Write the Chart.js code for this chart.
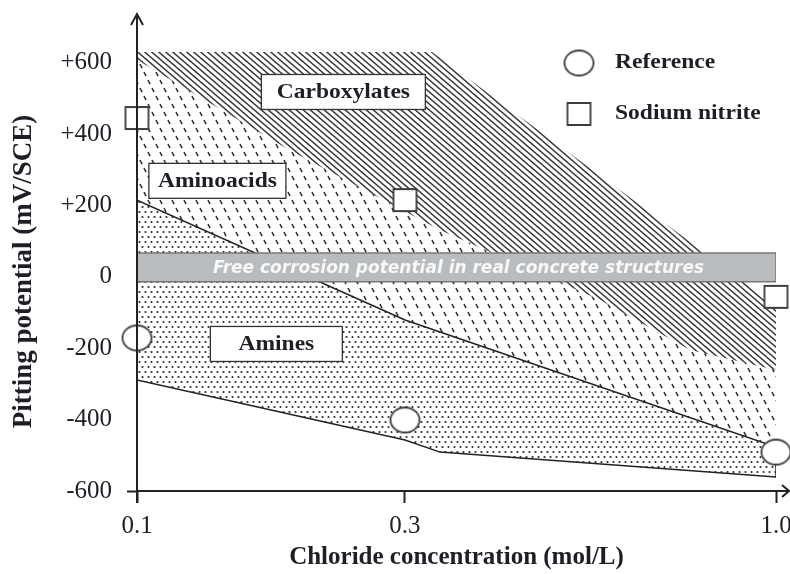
<!DOCTYPE html>
<html>
<head>
<meta charset="utf-8">
<script src="https://cdn.jsdelivr.net/npm/chart.js@4.4.0/dist/chart.umd.min.js"></script>
<style>
  html, body { margin: 0; padding: 0; background: #fff; }
  #wrap { width: 790px; height: 574px; }
</style>
</head>
<body>
<div id="wrap"><canvas id="pitting"></canvas></div>
<script>
// x: chloride concentration (mol/L), y: pitting potential (mV/SCE)
const xTicks = [0.1, 0.3, 1.0];
const xTickLabels = ['0.1', '0.3', '1.0'];
const yTicks = [-600, -400, -200, 0, 200, 400, 600];
const yTickLabels = ['-600', '-400', '-200', '0', '+200', '+400', '+600'];

// measured points
const refConc = [0.1, 0.3, 1.0];
const refPotential = [-171, -401, -491];
const nitriteConc = [0.1, 0.3, 1.0];
const nitritePotential = [445, 215, -56];

// inhibitor domains (outlines)
const carboxConc = [0.1, 0.351, 1.0, 1.0, 0.838, 0.668, 0.366, 0.214, 0.1];
const carboxPotential = [630, 630, -79, -261, -205, -65, 131, 355, 608];
const aminoConc = [0.1, 0.214, 0.366, 0.668, 0.838, 1.0, 1.0, 0.3, 0.1];
const aminoPotential = [608, 355, 131, -65, -205, -261, -477, -121, 215];
const amineConc = [0.1, 0.3, 1.0, 1.0, 0.366, 0.3, 0.1];
const aminePotential = [215, -121, -477, -561, -491, -457, -289];

// free corrosion potential band
const bandConc = [0.1, 1.0, 1.0, 0.1];
const bandPotential = [-14, -14, 67, 67];
const bandText = 'Free corrosion potential in real concrete structures';

// domain labels
const regionNames = ['Carboxylates', 'Aminoacids', 'Amines'];
const regionConc = [0.254, 0.160, 0.204];
const regionPotential = [518, 269, -188];
const regionBoxWidth = [164, 137, 132];

const serif = 'Liberation Serif';
const ink = '#1e1e26';

// the x axis of the figure is neither linear nor log: piecewise between its ticks
class ChlorideScale extends Chart.LinearScale {
  toFrac(v) {
    const k = ChlorideScale.knots, f = ChlorideScale.fracs;
    let i = 1;
    while (i < k.length - 1 && v > k[i]) i++;
    return f[i - 1] + (v - k[i - 1]) / (k[i] - k[i - 1]) * (f[i] - f[i - 1]);
  }
  getPixelForValue(v) {
    if (v === null || v === undefined) return NaN;
    const a = this.toFrac(this.min), b = this.toFrac(this.max);
    return this.getPixelForDecimal((this.toFrac(v) - a) / (b - a));
  }
}
ChlorideScale.id = 'chloride';
ChlorideScale.defaults = Chart.LinearScale.defaults;
ChlorideScale.knots = [0.1, 0.3, 1.0];
ChlorideScale.fracs = [0, 0.4194, 1];
Chart.register(ChlorideScale);

const canvas = document.getElementById('pitting');
const ctx = canvas.getContext('2d');

function pattern(w, h, draw) {
  const c = document.createElement('canvas');
  c.width = w; c.height = h;
  draw(c.getContext('2d'), w, h);
  return ctx.createPattern(c, 'repeat');
}

// dense diagonal hatching
const stripes = pattern(7, 6, (g, w, h) => {
  g.strokeStyle = '#383838'; g.lineWidth = 1.45;
  for (const dx of [-w, 0, w]) {
    g.beginPath(); g.moveTo(dx - w, -h); g.lineTo(dx + 2 * w, 2 * h); g.stroke();
  }
});
// steep dashes
const dashes = pattern(12, 24, (g, w, h) => {
  g.strokeStyle = '#333'; g.lineWidth = 1.6;
  const len = Math.hypot(w, h) / 3;
  g.setLineDash([len * 0.52, len * 0.48]);
  for (const dx of [-w, 0, w]) {
    g.beginPath(); g.moveTo(dx - w, -h); g.lineTo(dx + 2 * w, 2 * h); g.stroke();
  }
});
// dots
const dots = pattern(6, 10, (g) => {
  g.fillStyle = '#2e2e2e';
  for (const [px, py] of [[1.5, 2], [4.5, 7]]) {
    g.beginPath(); g.arc(px, py, 1.1, 0, Math.PI * 2); g.fill();
  }
});

function marker(w, h, round) {
  const c = document.createElement('canvas');
  c.width = w + 4; c.height = h + 4;
  const g = c.getContext('2d');
  g.beginPath();
  if (round) g.ellipse(c.width / 2, c.height / 2, w / 2, h / 2, 0, 0, Math.PI * 2);
  else g.rect(2, 2, w, h);
  g.fillStyle = '#fff'; g.fill();
  g.lineWidth = 1.8; g.strokeStyle = '#3c3c3c'; g.stroke();
  return c;
}
const circleMark = marker(29, 25, true);
const squareMark = marker(23, 22, false);

const pts = (xs, ys) => xs.map((x, i) => ({ x: x, y: ys[i] }));
const closed = (xs, ys) => { const p = pts(xs, ys); p.push(p[0]); return p; };

const overlay = {
  id: 'overlay',
  afterDatasetsDraw(chart) {
    const { ctx, chartArea: a, scales: { x, y } } = chart;
    ctx.save();

    // axes with open arrow heads
    ctx.strokeStyle = '#222';
    ctx.lineWidth = 2;
    ctx.beginPath();
    ctx.moveTo(a.left, a.bottom + 12); ctx.lineTo(a.left, a.top - 38);
    ctx.moveTo(a.left - 6, a.top - 27); ctx.lineTo(a.left, a.top - 38); ctx.lineTo(a.left + 6, a.top - 27);
    ctx.moveTo(a.left, a.bottom); ctx.lineTo(a.right + 13, a.bottom);
    ctx.moveTo(a.right + 6, a.bottom - 6); ctx.lineTo(a.right + 13, a.bottom); ctx.lineTo(a.right + 6, a.bottom + 6);
    ctx.stroke();

    // band caption
    ctx.font = 'italic bold 17px "DejaVu Sans"';
    ctx.fillStyle = '#f8f8f8';
    ctx.textAlign = 'center';
    ctx.textBaseline = 'middle';
    ctx.fillText(bandText, (a.left + a.right) / 2 + 2, y.getPixelForValue((bandPotential[0] + bandPotential[2]) / 2) + 1);

    // domain labels in boxes
    regionNames.forEach((name, i) => {
      const cx = x.getPixelForValue(regionConc[i]);
      const cy = y.getPixelForValue(regionPotential[i]);
      const w = regionBoxWidth[i], h = 35;
      ctx.fillStyle = '#fff';
      ctx.fillRect(cx - w / 2, cy - h / 2, w, h);
      ctx.strokeStyle = '#333'; ctx.lineWidth = 1.3;
      ctx.strokeRect(cx - w / 2, cy - h / 2, w, h);
      ctx.save();
      ctx.translate(cx, cy + 1);
      ctx.scale(1.12, 1);
      ctx.fillStyle = ink;
      ctx.font = 'bold 21px "' + serif + '"';
      ctx.fillText(name, 0, 0);
      ctx.restore();
    });

    // legend, top right inside the frame
    const items = [[circleMark, chart.data.datasets[0].label], [squareMark, chart.data.datasets[1].label]];
    items.forEach(([img, label], i) => {
      const my = a.top + 11 + i * 51;
      ctx.drawImage(img, a.right - 197 - img.width / 2, my - img.height / 2);
      ctx.save();
      ctx.translate(a.right - 161, my);
      ctx.scale(1.12, 1);
      ctx.textAlign = 'left';
      ctx.fillStyle = ink;
      ctx.font = 'bold 21px "' + serif + '"';
      ctx.fillText(label, 0, 0);
      ctx.restore();
    });
    ctx.restore();
  }
};

new Chart(ctx, {
  type: 'line',
  data: {
    datasets: [
      { label: 'Reference', data: pts(refConc, refPotential), showLine: false,
        pointStyle: circleMark, pointRadius: 13, clip: false },
      { label: 'Sodium nitrite', data: pts(nitriteConc, nitritePotential), showLine: false,
        pointStyle: squareMark, pointRadius: 12, clip: false },
      { label: 'Free corrosion', data: closed(bandConc, bandPotential), fill: 'shape',
        backgroundColor: '#b9bcbf', borderColor: '#777', borderWidth: 1.5, pointRadius: 0 },
      { label: 'Amines', data: closed(amineConc, aminePotential), fill: 'shape',
        backgroundColor: dots, borderColor: '#222', borderWidth: 1.5, pointRadius: 0 },
      { label: 'Carboxylates', data: closed(carboxConc, carboxPotential), fill: 'shape',
        backgroundColor: stripes, borderWidth: 0, pointRadius: 0 },
      { label: 'Aminoacids', data: closed(aminoConc, aminoPotential), fill: 'shape',
        backgroundColor: dashes, borderWidth: 0, pointRadius: 0 }
    ]
  },
  options: {
    responsive: true,
    maintainAspectRatio: false,
    animation: false,
    events: [],
    layout: { padding: { top: 52, right: 14, bottom: 0, left: 0 } },
    elements: { line: { tension: 0 } },
    plugins: { legend: { display: false }, tooltip: { enabled: false } },
    scales: {
      x: {
        type: 'chloride',
        min: 0.1,
        max: 1.0,
        afterBuildTicks: s => { s.ticks = xTicks.map(v => ({ value: v })); },
        afterFit: s => { s.height = 83; s.paddingLeft = 0; s.paddingRight = 0; },
        border: { display: false },
        grid: { drawOnChartArea: false, tickLength: 12, tickWidth: 2, tickColor: '#222' },
        ticks: {
          padding: 8, color: ink, maxRotation: 0, autoSkip: false,
          font: { family: serif, size: 25 },
          callback: v => xTickLabels[xTicks.indexOf(v)]
        },
        title: {
          display: true, text: 'Chloride concentration (mol/L)', color: ink,
          font: { family: serif, size: 25, weight: 'bold' }, padding: { top: 0, bottom: 1 }
        }
      },
      y: {
        min: -600,
        max: 630,
        afterBuildTicks: s => { s.ticks = yTicks.map(v => ({ value: v })); },
        afterFit: s => { s.width = 137; s.paddingTop = 0; s.paddingBottom = 0; },
        border: { display: false },
        grid: {
          drawOnChartArea: false, tickLength: 10, tickWidth: 2,
          tickColor: c => (c.tick && c.tick.value === -600 ? '#222' : 'rgba(0,0,0,0)')
        },
        ticks: {
          padding: 15, color: ink,
          font: { family: serif, size: 25 },
          callback: v => yTickLabels[yTicks.indexOf(v)]
        },
        title: {
          display: true, text: 'Pitting potential (mV/SCE)', color: ink,
          font: { family: serif, size: 27, weight: 'bold' }, padding: { top: 8, bottom: 0 }
        }
      }
    }
  },
  plugins: [overlay]
});
</script>
</body>
</html>
